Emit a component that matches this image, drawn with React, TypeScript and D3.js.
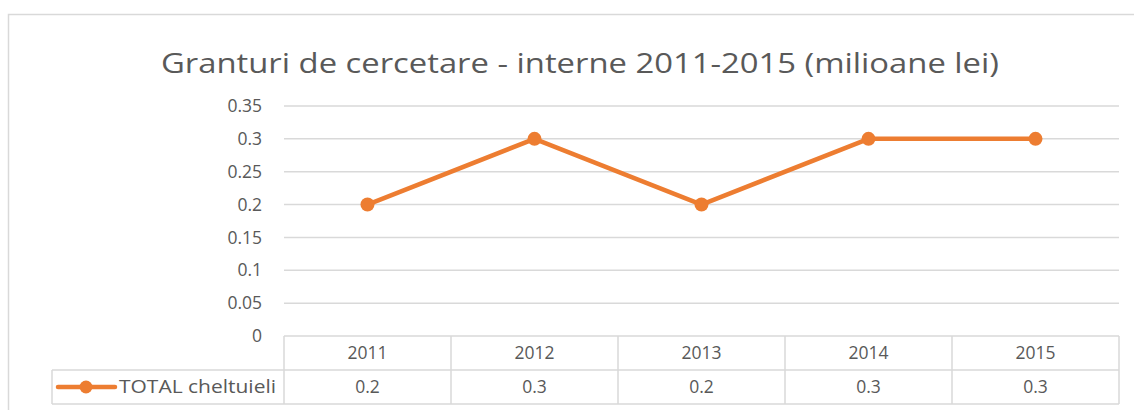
import React from 'react';
import * as d3 from 'd3';

const years = ['2011', '2012', '2013', '2014', '2015'];
const totalValues = [0.2, 0.3, 0.2, 0.3, 0.3];
const yTicks = [0, 0.05, 0.1, 0.15, 0.2, 0.25, 0.3, 0.35];
const seriesName = 'TOTAL cheltuieli';
const title = 'Granturi de cercetare - interne 2011-2015 (milioane lei)';

const ORANGE = '#ED7D31';
const GRID = '#D9D9D9';
const TEXT = '#595959';
const FONT = 'Open Sans, Lato, sans-serif';

export default function App() {
    const width = 1134;
    const height = 410;
    const plot = { left: 284, right: 1119, top: 106, bottom: 336 };
    const rowH = 34;

    const xScale = d3.scaleBand().domain(years).range([plot.left, plot.right]);
    const yScale = d3.scaleLinear().domain([0, 0.35]).range([plot.bottom, plot.top]);

    const line = d3.line<number>()
        .x((d, i) => xScale(years[i])! + xScale.bandwidth() / 2)
        .y(d => yScale(d));

    const fmt = (v: number) => d3.format('')(+v.toFixed(2));
    const legendLeft = 52;
    const row1 = plot.bottom + rowH;
    const row2 = row1 + rowH;

    return (
        <svg width={width} height={height} style={{ position: 'fixed', left: 0, top: 0, background: '#fff' }}
            fontFamily={FONT}>
            <rect x={8.5} y={14.5} width={1140} height={420} fill="#fff" stroke={GRID} strokeWidth={1.5} />
            <text x={580} y={73} textAnchor="middle" fontSize={27} fill={TEXT} textLength={838} lengthAdjust="spacingAndGlyphs">
                {title}
            </text>

            {/* gridlines */}
            {yTicks.filter(t => t > 0).map(t => (
                <line key={t} x1={plot.left} x2={plot.right} y1={yScale(t)} y2={yScale(t)} stroke={GRID} strokeWidth={1.5} />
            ))}
            {yTicks.map(t => (
                <text key={t} x={262} y={yScale(t)} dy="0.35em" textAnchor="end" fontSize={17.5} fill={TEXT}>
                    {fmt(t)}
                </text>
            ))}

            {/* data table */}
            <g stroke={GRID} strokeWidth={1.5} fill="none">
                <line x1={plot.left} x2={plot.right} y1={plot.bottom} y2={plot.bottom} />
                <line x1={legendLeft} x2={plot.right} y1={row1} y2={row1} />
                <line x1={legendLeft} x2={plot.right} y1={row2} y2={row2} />
                <line x1={legendLeft} x2={legendLeft} y1={row1} y2={row2} />
                {years.map(y => (
                    <line key={y} x1={xScale(y)} x2={xScale(y)} y1={plot.bottom} y2={row2} />
                ))}
                <line x1={plot.right} x2={plot.right} y1={plot.bottom} y2={row2} />
            </g>
            {years.map((y, i) => (
                <g key={y}>
                    <text x={xScale(y)! + xScale.bandwidth() / 2} y={plot.bottom + rowH / 2} dy="0.35em"
                        textAnchor="middle" fontSize={17.5} fill={TEXT}>{y}</text>
                    <text x={xScale(y)! + xScale.bandwidth() / 2} y={row1 + rowH / 2} dy="0.35em"
                        textAnchor="middle" fontSize={17.5} fill={TEXT}>{fmt(totalValues[i])}</text>
                </g>
            ))}

            {/* legend key */}
            <line x1={58} x2={115} y1={row1 + rowH / 2} y2={row1 + rowH / 2} stroke={ORANGE} strokeWidth={4.5} strokeLinecap="round" />
            <circle cx={86} cy={row1 + rowH / 2} r={6.5} fill={ORANGE} />
            <text x={119} y={row1 + rowH / 2} dy="0.35em" fontSize={17.5} fill={TEXT} textLength={157} lengthAdjust="spacingAndGlyphs">
                {seriesName}
            </text>

            {/* series */}
            <path d={line(totalValues) || ''} fill="none" stroke={ORANGE} strokeWidth={4.5} strokeLinejoin="round" />
            {totalValues.map((v, i) => (
                <circle key={i} cx={xScale(years[i])! + xScale.bandwidth() / 2} cy={yScale(v)} r={7} fill={ORANGE} />
            ))}
        </svg>
    );
}
